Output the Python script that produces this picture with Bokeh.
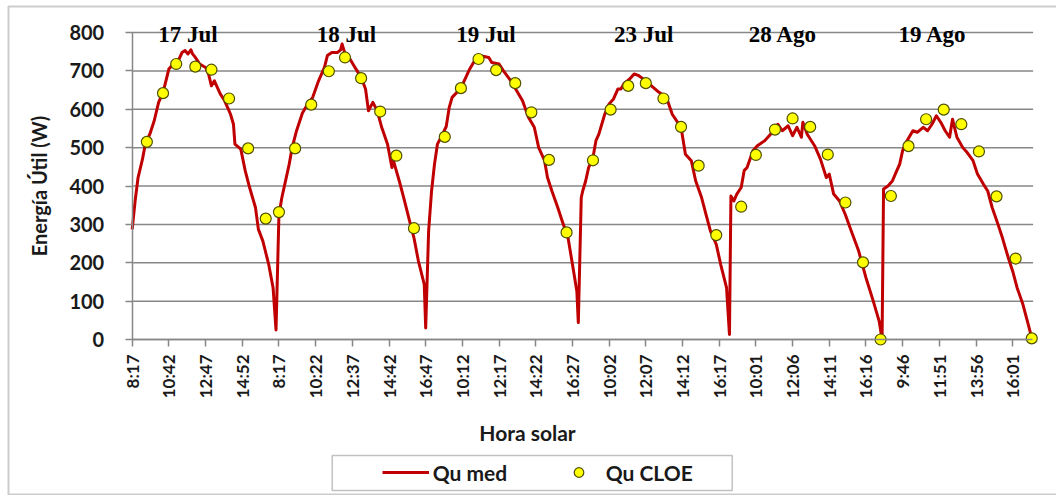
import math
from bokeh.plotting import figure
from bokeh.models import FixedTicker, Label, Legend, LegendItem, BoxAnnotation, Range1d
from bokeh.embed import file_html
from bokeh.resources import INLINE

# ---- data (category index along the measurement sequence, value in W) ----
tick_labels = ["8:17", "10:42", "12:47", "14:52", "8:17", "10:22", "12:37", "14:42", "16:47",
               "10:12", "12:17", "14:22", "16:27", "10:02", "12:07", "14:12", "16:17",
               "10:01", "12:06", "14:11", "16:16", "9:46", "11:51", "13:56", "16:01"]
label_every = 25
tick_index = [k * label_every for k in range(len(tick_labels))]
last_category = 613.5

day_names = ["17 Jul", "18 Jul", "19 Jul", "23 Jul", "28 Ago", "19 Ago"]
day_name_index = [38, 146, 241, 348.5, 443.5, 545.5]

qu_med_x = [0, 2, 4, 7, 9, 12, 15, 18, 21, 23, 25, 28, 32, 34, 36, 38, 40, 41, 43, 46, 50, 52, 54, 56,
            60, 63, 67, 69, 70, 74, 77, 80, 84, 86, 89, 93, 96, 98,
            100, 102, 104, 107, 109, 112, 116, 119, 123, 127, 131, 133, 136, 140, 142, 143, 145, 147,
            151, 156, 159, 161, 164, 167, 170, 174, 177, 178, 182, 185, 189, 192, 195, 199, 200,
            202, 204, 206, 208, 211, 214, 216, 218, 224, 230, 234, 239, 243, 245, 250, 253, 258,
            262, 266, 270, 274, 277, 281, 283, 286, 290, 293, 297, 300, 303, 304,
            306, 307, 309, 311, 314, 316, 318, 322, 325, 328, 331, 333, 335, 339, 342, 345, 350,
            355, 359, 364, 368, 374, 377, 381, 384, 388, 391, 394, 398, 401, 405, 407,
            408, 410, 412, 415, 417, 419, 423, 426, 431, 435, 440, 443, 447, 450, 453, 456, 457,
            460, 465, 469, 473, 475, 478, 482, 486, 490, 495, 500, 505, 509, 511,
            512, 515, 518, 520, 523, 525, 528, 532, 535, 539, 542, 545, 548, 551, 554, 557, 559,
            562, 566, 569, 573, 576, 580, 583, 586, 590, 593, 597, 600, 603, 607, 610, 613]
qu_med_y = [287, 361, 422, 470, 510, 535, 570, 618, 644, 674, 705, 718, 731, 748, 753, 744, 755, 745, 735, 718, 709, 692, 661, 674,
            640, 622, 587, 561, 509, 496, 440, 396, 344, 287, 257, 196, 135, 25,
            325, 370, 405, 457, 500, 544, 590, 610, 631, 674, 709, 740, 748, 748, 755, 770, 745, 740,
            714, 683, 653, 596, 618, 596, 553, 509, 448, 466, 413, 370, 309, 265, 205, 144, 30,
            283, 387, 457, 509, 531, 555, 604, 631, 655, 705, 731, 738, 735, 722, 718, 700, 674,
            648, 622, 579, 553, 500, 466, 422, 387, 344, 309, 265, 196, 126, 44,
            370, 387, 413, 448, 474, 518, 535, 587, 614, 627, 653, 653, 666, 679, 692, 688, 674,
            657, 644, 631, 587, 553, 483, 466, 413, 370, 326, 283, 248, 196, 135, 13,
            374, 361, 379, 396, 440, 448, 492, 505, 518, 535, 561, 544, 557, 531, 553, 527, 566,
            535, 505, 470, 422, 431, 379, 361, 325, 283, 231, 161, 100, 48, 0,
            392, 400, 413, 431, 457, 492, 518, 544, 540, 553, 544, 561, 583, 566, 544, 527, 574,
            527, 500, 487, 466, 431, 405, 387, 344, 300, 265, 213, 178, 135, 91, 48, 4]

qu_cloe_x = [10, 21, 30, 43, 54, 66, 79, 91,
             100, 111, 122, 134, 145, 156, 169, 180, 192,
             213, 224, 236, 248, 261, 272, 284, 296,
             314, 326, 338, 350, 362, 374, 386, 398,
             415, 425, 438, 450, 462, 474, 486, 498, 510,
             517, 529, 541, 553, 565, 577, 589, 602, 613]
qu_cloe_y = [515, 642, 718, 711, 703, 628, 498, 315,
             332, 498, 612, 699, 735, 681, 594, 479, 290,
             528, 655, 731, 702, 668, 592, 468, 279,
             467, 599, 661, 668, 628, 554, 453, 272,
             346, 481, 547, 576, 554, 482, 357, 201, 0,
             374, 504, 574, 599, 561, 490, 373, 211, 3]

y_ticks = [0, 100, 200, 300, 400, 500, 600, 700, 800]

# ---- layout (pixels) ----
W, H = 1056, 495
plot_left_px, plot_right_px = 131.7, 1032.0
plot_top_px, plot_bottom_px = 32.0, 339.0
y_max = 800
kx = (plot_right_px - plot_left_px) / last_category
ky = (plot_bottom_px - plot_top_px) / y_max


def dx(px):
    return (px - plot_left_px) / kx


def dy(py):
    return (plot_bottom_px - py) / ky


p = figure(width=W, height=H, output_backend="svg", toolbar_location=None, title=None,
           x_range=Range1d(dx(0), dx(W)), y_range=Range1d(dy(H), dy(0)),
           min_border=0, min_border_left=0, min_border_right=0,
           min_border_top=0, min_border_bottom=0)
p.outline_line_color = None
p.background_fill_color = "white"
p.border_fill_color = "white"
p.xgrid.visible = False
p.ygrid.visible = False

grey = "#878787"
font = "Lato"
txt = "#1a1a1a"

# horizontal gridlines
p.segment(x0=[0] * len(y_ticks), x1=[last_category + 0.4] * len(y_ticks),
          y0=y_ticks, y1=y_ticks, line_color=grey, line_width=1.5)

xa = p.xaxis[0]
xa.fixed_location = 0
xa.bounds = (0, last_category)
xa.ticker = FixedTicker(ticks=tick_index)
xa.major_label_overrides = {t: l for t, l in zip(tick_index, tick_labels)}
xa.major_label_orientation = math.pi / 2
xa.minor_tick_line_color = None
xa.major_tick_out = 7
xa.major_tick_in = 0
xa.major_tick_line_color = grey
xa.major_tick_line_width = 1.5
xa.axis_line_color = grey
xa.axis_line_width = 1.5
xa.major_label_standoff = 8
xa.major_label_text_font = font
xa.major_label_text_font_style = "bold"
xa.major_label_text_font_size = "17px"
xa.major_label_text_color = txt

ya = p.yaxis[0]
ya.fixed_location = 0
ya.bounds = (0, y_max)
ya.ticker = FixedTicker(ticks=y_ticks)
ya.minor_tick_line_color = None
ya.major_tick_out = 7
ya.major_tick_in = 0
ya.major_tick_line_color = grey
ya.major_tick_line_width = 1.5
ya.axis_line_color = grey
ya.axis_line_width = 1.5
ya.major_label_standoff = 21
ya.major_label_text_font = font
ya.major_label_text_font_style = "bold"
ya.major_label_text_font_size = "20px"
ya.major_label_text_color = txt
ya.axis_label = "Energía Útil (W)"
ya.axis_label_text_font = font
ya.axis_label_text_font_style = "bold"
ya.axis_label_text_font_size = "20px"
ya.axis_label_text_color = txt
ya.axis_label_standoff = 16

line_r = p.line(qu_med_x, qu_med_y, line_color="#c00000", line_width=3, line_join="round")
pts_r = p.scatter(qu_cloe_x, qu_cloe_y, size=11, fill_color="#ffff00",
                  line_color="#4f4f00", line_width=1.2)

for name, xi in zip(day_names, day_name_index):
    p.add_layout(Label(x=xi, y=y_max, y_offset=-2, text=name, text_align="center",
                       text_baseline="alphabetic", text_font="Liberation Serif",
                       text_font_style="bold", text_font_size="23px", text_color="black"))

p.add_layout(Label(x=dx(527), y=dy(432), text="Hora solar", text_align="center",
                   text_baseline="middle", text_font=font, text_font_style="bold",
                   text_font_size="21px", text_color=txt))

legend = Legend(items=[LegendItem(label="Qu med", renderers=[line_r]),
                       LegendItem(label="Qu CLOE", renderers=[pts_r])],
                orientation="horizontal", location=(378.7, H - 487.5),
                glyph_width=47, glyph_height=24, label_standoff=4, label_width=100,
                spacing=22, padding=3, margin=0,
                border_line_alpha=0, background_fill_alpha=0,
                label_text_font=font, label_text_font_style="bold",
                label_text_font_size="21px", label_text_color=txt)
p.add_layout(legend)

# legend frame and outer chart frame
p.add_layout(BoxAnnotation(left=dx(331.7), right=dx(731.7), top=dy(455), bottom=dy(490),
                           fill_color=None, fill_alpha=0, line_color="#333333", line_width=1.5))
p.add_layout(BoxAnnotation(left=dx(8), right=dx(W + 10), top=dy(6), bottom=dy(H - 1),
                           fill_color=None, fill_alpha=0, line_color="#555555", line_width=2))

open("out.html", "w").write(file_html(p, INLINE))
